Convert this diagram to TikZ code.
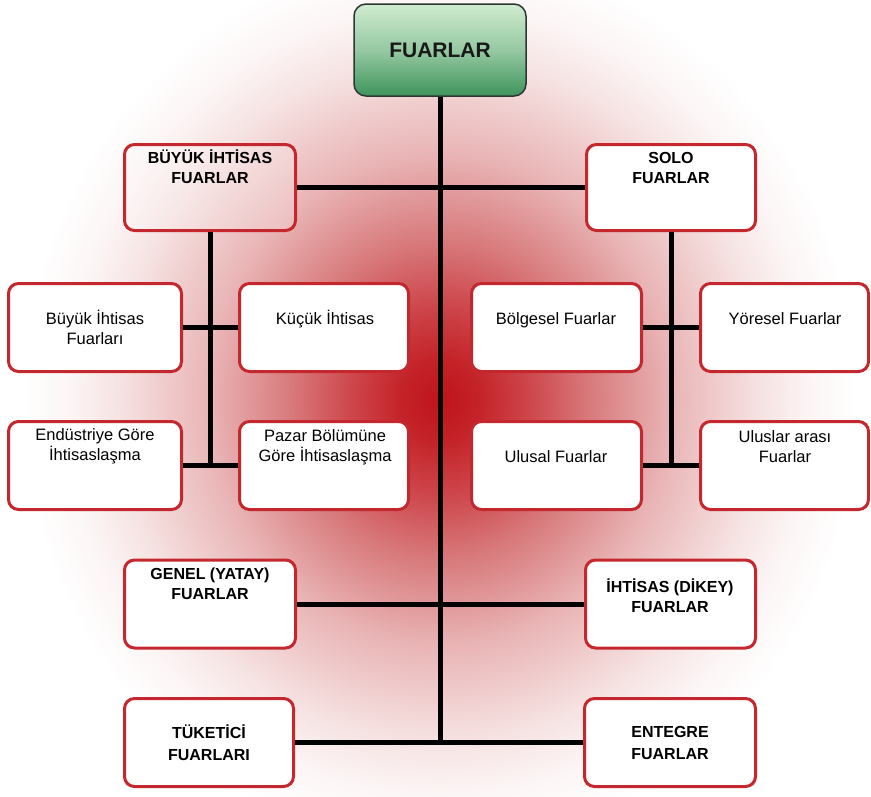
\documentclass[tikz,border=0pt]{standalone}
\usepackage{fontspec}
\setmainfont{Liberation Sans}
\definecolor{boxred}{RGB}{196,40,46}
\definecolor{gA}{RGB}{190,20,26}
\definecolor{gB}{RGB}{196,35,40}
\definecolor{gC}{RGB}{205,70,75}
\definecolor{gD}{RGB}{216,122,124}
\definecolor{gE}{RGB}{233,180,181}
\definecolor{gF}{RGB}{246,226,226}
\definecolor{gG}{RGB}{252,245,245}
\definecolor{grTop}{RGB}{208,236,208}
\definecolor{grBot}{RGB}{62,148,92}
\definecolor{topline}{RGB}{45,55,50}
% the path's bounding box maps to +-25bp; ellipse radius 620 -> 1px = 0.0403bp
\pgfdeclareradialshading{glow}{\pgfpoint{0bp}{0bp}}{color(0bp)=(gA); color(1.6bp)=(gB); color(3.6bp)=(gC); color(6.05bp)=(gD); color(9.3bp)=(gE); color(12.9bp)=(gF); color(14.9bp)=(gG); color(16.9bp)=(white); color(50bp)=(white)}
\begin{document}
\begin{tikzpicture}[x=1pt,y=-1pt,
  box/.style={draw=boxred, line width=3pt, fill=white, rounded corners=10pt, inner sep=0pt},
  conn/.style={line width=5pt, black},
  rtxt/.style={anchor=base, align=center, inner sep=0pt, font=\fontsize{16.5}{20}\selectfont},
  btxt/.style={anchor=base, align=center, inner sep=0pt, font=\bfseries\fontsize{16}{19.5}\selectfont}]
\useasboundingbox (0,0) rectangle (871,796);
\fill[white] (0,0) rectangle (871,796);
\begin{scope}
\clip (0,0) rectangle (871,796);
\fill[shading=glow] (440,400) ellipse [x radius=620, y radius=660];
\end{scope}

% boxes
\node[draw=topline, line width=1.5pt, rounded corners=12pt, top color=grTop, bottom color=grBot, middle color=grTop!60!grBot, minimum width=172pt, minimum height=92pt, inner sep=0pt] (top) at (440,50) {};
\node[box, fill opacity=0.2, minimum width=171pt, minimum height=86pt] (bih) at (210,187.5) {};
\node[box, minimum width=169pt, minimum height=86pt] (solo) at (671,187.5) {};
\node[box, minimum width=173pt, minimum height=88pt] (bif) at (95,327.5) {};
\node[box, minimum width=169pt, minimum height=88pt] (kuc) at (324,327.5) {};
\node[box, minimum width=170pt, minimum height=88pt] (bol) at (556.5,327.5) {};
\node[box, minimum width=168pt, minimum height=88pt] (yor) at (784.5,327.5) {};
\node[box, minimum width=173pt, minimum height=88pt] (end) at (95,465.5) {};
\node[box, minimum width=169pt, minimum height=88pt] (paz) at (324,465.5) {};
\node[box, minimum width=170pt, minimum height=88pt] (uls) at (556.5,465.5) {};
\node[box, minimum width=168pt, minimum height=88pt] (ula) at (784.5,465.5) {};
\node[box, minimum width=171pt, minimum height=88pt] (gen) at (210,604) {};
\node[box, minimum width=170pt, minimum height=88pt] (iht) at (670.5,604) {};
\node[box, minimum width=169pt, minimum height=88pt] (tuk) at (209,742.5) {};
\node[box, minimum width=171pt, minimum height=88pt] (ent) at (670,742.5) {};

% connectors
\coordinate (cj) at (top.south |- tuk.east);
\coordinate (lj) at (bih.south |- end.east);
\coordinate (rj) at (solo.south |- uls.east);
\draw[conn] (top.south) -- (cj);
\draw[conn] (bih.east) -- (solo.west);
\draw[conn] (bih.south) -- (lj);
\draw[conn] (solo.south) -- (rj);
\draw[conn] (bif.east) -- (kuc.west);
\draw[conn] (end.east) -- (paz.west);
\draw[conn] (bol.east) -- (yor.west);
\draw[conn] (uls.east) -- (ula.west);
\draw[conn] (gen.east) -- (iht.west);
\draw[conn] (tuk.east) -- (ent.west);

% texts (multi-line nodes: base = last line)
\node[font=\bfseries\fontsize{21}{24}\selectfont, text=black!90, inner sep=0pt] (t-top) at (440,50) {FUARLAR};
\node[btxt] (t-bih) at (210,183) {BÜYÜK İHTİSAS\\FUARLAR};
\node[btxt] (t-solo) at (671,183) {SOLO\\FUARLAR};
\node[rtxt] (t-bif) at (95,344) {Büyük İhtisas\\Fuarları};
\node[rtxt] (t-kuc) at (325,324) {Küçük İhtisas};
\node[rtxt] (t-bol) at (556,324) {Bölgesel Fuarlar};
\node[rtxt] (t-yor) at (785,324) {Yöresel Fuarlar};
\node[rtxt] (t-end) at (95,460) {Endüstriye Göre\\İhtisaslaşma};
\node[rtxt] (t-paz) at (325,461) {Pazar Bölümüne\\Göre İhtisaslaşma};
\node[rtxt] (t-uls) at (556,462) {Ulusal Fuarlar};
\node[rtxt] (t-ula) at (785,462) {Uluslar arası\\Fuarlar};
\node[btxt] (t-gen) at (210,599) {GENEL (YATAY)\\FUARLAR};
\node[btxt] (t-iht) at (670,612) {İHTİSAS (DİKEY)\\FUARLAR};
\node[btxt, font=\bfseries\fontsize{16}{22}\selectfont] (t-tuk) at (209,760) {TÜKETİCİ\\FUARLARI};
\node[btxt, font=\bfseries\fontsize{16}{22}\selectfont] (t-ent) at (670,759) {ENTEGRE\\FUARLAR};
\end{tikzpicture}
\end{document}
